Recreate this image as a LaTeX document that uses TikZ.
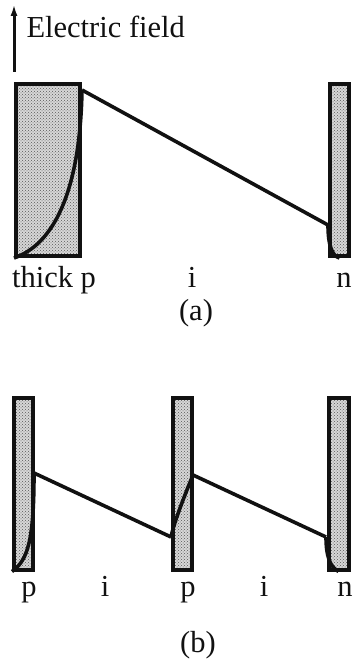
\documentclass[tikz,border=0pt]{standalone}
\usepackage{fontspec}
\setmainfont{Liberation Serif}
\usepackage{xcolor}
\usepackage{tikz}
\usetikzlibrary{arrows.meta,patterns}
\definecolor{inkblack}{HTML}{111111}
\definecolor{dopegrey}{HTML}{9A9A9A}

\begin{document}
\begin{tikzpicture}[
    x=1pt, y=-1pt,
    every node/.style={font=\fontsize{30.5}{33}\selectfont, text=inkblack},
    layer/.style={draw=inkblack, line width=4pt, rectangle, inner sep=0pt,
        minimum height=172pt, preaction={fill=dopegrey!40},
        pattern=crosshatch dots, pattern color=inkblack!70},
    field/.style={draw=inkblack, line width=3.6pt, line join=round},
    tag/.style={anchor=base}
]
\useasboundingbox (0,0) rectangle (354,660);
% (a) thick p - i - n
\draw[inkblack, line width=3pt, -{Latex[length=12pt,width=7pt]}] (14,72) -- (14,4);
\node[anchor=base west] (efield) at (23,38) {Electric field};
\node[layer, minimum width=64pt] (pA) at (48,170) {};
\node[layer, minimum width=19pt] (nA) at (339.5,170) {};
\coordinate (pAtop) at (82,90);
\coordinate (nAedge) at (328,225);
\draw[field] (pA.south west) .. controls (52,245) and (80,195) .. (pAtop);
\draw[field] (pAtop) -- (nAedge);
\draw[field] (nAedge) .. controls (328,245) and (332,256) .. (nA.south);
\node[tag] (thickp) at (54,287) {thick p};
\node[tag] (iA) at (192,287) {i};
\node[tag] (nlabA) at (344,287) {n};
\node[tag] (capA) at (196,320) {(a)};
% (b) p - i - p - i - n
\node[layer, minimum width=19pt] (pB1) at (23.5,483.5) {};
\node[layer, minimum width=19pt] (pB2) at (182.5,483.5) {};
\node[layer, minimum width=20pt] (nB) at (338.5,483.5) {};
\coordinate (pB1top) at (34,473);
\coordinate (pB2low) at (171,537);
\coordinate (pB2top) at (193,475);
\coordinate (nBedge) at (326,537);
\draw[field] (pB1.south west) .. controls (28,560) and (34,540) .. (pB1top);
\draw[field] (pB1top) -- (pB2low);
\draw[field] (pB2low) .. controls (174,522) and (186,492) .. (pB2top);
\draw[field] (pB2top) -- (nBedge);
\draw[field] (nBedge) .. controls (326,556) and (330,567) .. (nB.south);
\node[tag] (pB1lab) at (29,596) {p};
\node[tag] (iB1) at (105,596) {i};
\node[tag] (pB2lab) at (188,596) {p};
\node[tag] (iB2) at (264,596) {i};
\node[tag] (nBlab) at (345,596) {n};
\node[tag] (capB) at (198,652) {(b)};
\end{tikzpicture}
\end{document}
